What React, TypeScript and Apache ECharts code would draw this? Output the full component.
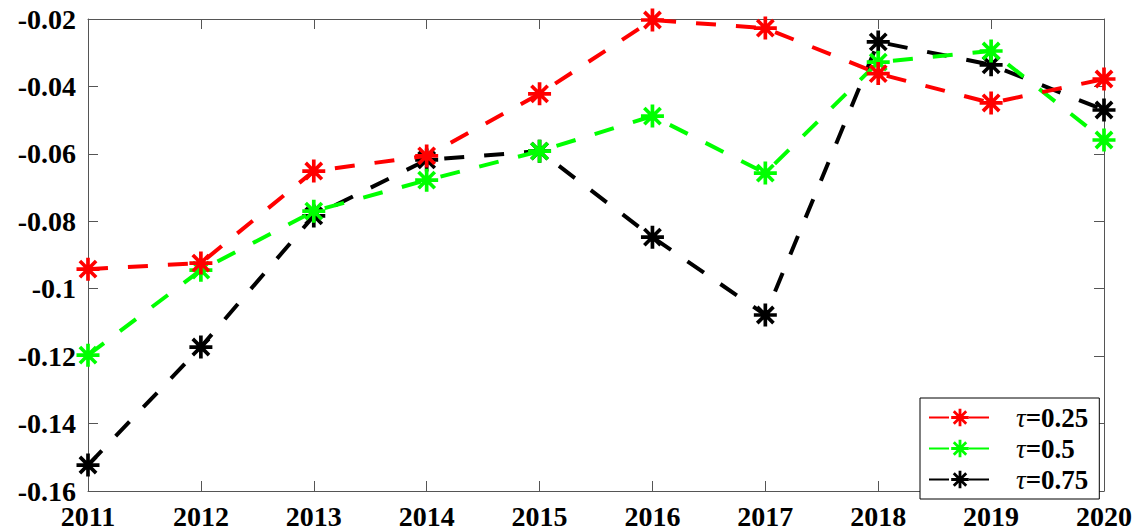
import React, { useEffect, useRef } from "react";
import * as echarts from "echarts";

const years = ["2011", "2012", "2013", "2014", "2015", "2016", "2017", "2018", "2019", "2020"];
const tau025 = [-0.0942, -0.0924, -0.0651, -0.0606, -0.0422, -0.0203, -0.0227, -0.0362, -0.0449, -0.0378];
const tau05 = [-0.1197, -0.0945, -0.077, -0.0678, -0.0592, -0.0488, -0.0657, -0.0328, -0.0295, -0.0559];
const tau075 = [-0.1523, -0.1173, -0.0784, -0.0618, -0.0592, -0.0847, -0.1078, -0.0268, -0.0336, -0.047];
const seriesNames = ["τ=0.25", "τ=0.5", "τ=0.75"];
const seriesColors = ["#ff0000", "#00ff00", "#000000"];

const asterisk = (() => {
  const w = 0.16;
  const parts: string[] = [];
  for (const deg of [0, 45, 90, 135]) {
    const t = (deg * Math.PI) / 180;
    const dx = Math.cos(t);
    const dy = Math.sin(t);
    const px = -dy * w;
    const py = dx * w;
    const pts = [
      [dx + px, dy + py],
      [-dx + px, -dy + py],
      [-dx - px, -dy - py],
      [dx - px, dy - py],
    ];
    parts.push("M" + pts.map((p) => `${(p[0] + 1).toFixed(3)} ${(p[1] + 1).toFixed(3)}`).join(" L") + " Z");
  }
  return "path://" + parts.join(" ");
})();

const FONT = "Liberation Serif";

export default function App() {
  const ref = useRef<HTMLDivElement>(null);
  useEffect(() => {
    if (!ref.current) return;
    const chart = echarts.init(ref.current, null, { renderer: "svg" });
    const data = [tau025, tau05, tau075];
    const axisLine = { show: true, lineStyle: { color: "#555", width: 1 } };
    chart.setOption({
      animation: false,
      backgroundColor: "#fff",
      grid: { left: 88, right: 36, top: 19, bottom: 40, containLabel: false },
      legend: {
        orient: "vertical",
        left: 920,
        top: 398,
        padding: [6, 11, 6, 8],
        itemGap: 4,
        itemWidth: 62,
        itemHeight: 22,
        borderColor: "#000",
        borderWidth: 1,
        backgroundColor: "#fff",
        data: seriesNames,
        formatter: (name: string) => `{t|τ}{v|${name.slice(1)}}`,
        textStyle: {
          color: "#000",
          fontFamily: FONT,
          fontSize: 27,
          fontWeight: "bold",
          rich: {
            t: { fontFamily: FONT, fontSize: 27, fontStyle: "italic", fontWeight: "normal", color: "#000", padding: [0, 0, 0, 20] },
            v: { fontFamily: FONT, fontSize: 27, fontWeight: "bold", color: "#000" },
          },
        },
      },
      xAxis: [
        {
          type: "category",
          data: years,
          boundaryGap: false,
          axisLine,
          axisTick: { show: true, inside: true, length: 10, alignWithLabel: true, lineStyle: { color: "#555" } },
          axisLabel: { color: "#000", fontFamily: FONT, fontSize: 28, fontWeight: "bold", margin: 11 },
          splitLine: { show: false },
        },
        {
          type: "category",
          data: years,
          boundaryGap: false,
          position: "top",
          axisLine,
          axisTick: { show: true, inside: true, length: 10, alignWithLabel: true, lineStyle: { color: "#555" } },
          axisLabel: { show: false },
          splitLine: { show: false },
        },
      ],
      yAxis: [
        {
          type: "value",
          min: -0.16,
          max: -0.02,
          interval: 0.02,
          axisLine,
          axisTick: { show: true, inside: true, length: 10, lineStyle: { color: "#555" } },
          axisLabel: {
            color: "#000",
            fontFamily: FONT,
            fontSize: 28,
            fontWeight: "bold",
            margin: 12,
            formatter: (v: number) => v.toFixed(2).replace(/0$/, ""),
          },
          splitLine: { show: false },
        },
        {
          type: "value",
          min: -0.16,
          max: -0.02,
          interval: 0.02,
          position: "right",
          axisLine,
          axisTick: { show: true, inside: true, length: 10, lineStyle: { color: "#555" } },
          axisLabel: { show: false },
          splitLine: { show: false },
        },
      ],
      series: seriesNames.map((name, i) => ({
        name,
        type: "line",
        xAxisIndex: 0,
        yAxisIndex: 0,
        data: data[i],
        symbol: asterisk,
        symbolSize: 23,
        showAllSymbol: true,
        itemStyle: { color: seriesColors[i] },
        lineStyle: { color: seriesColors[i], width: 4, type: [20, 20] },
        z: 2 + (2 - i),
      })),
    });
    return () => chart.dispose();
  }, []);
  return (
    <div
      ref={ref}
      style={{ position: "fixed", left: 0, top: 0, width: 1140, height: 531 }}
    />
  );
}
